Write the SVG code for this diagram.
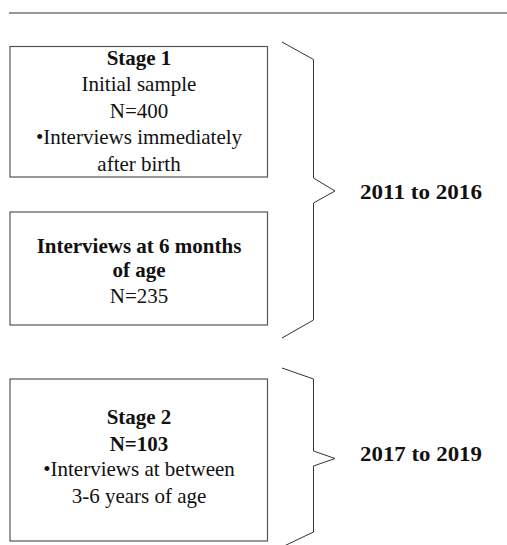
<svg xmlns="http://www.w3.org/2000/svg" width="507" height="545" viewBox="0 0 507 545">
<style>
.box{fill:#fff;stroke:#555;stroke-width:1.2}
.br{fill:none;stroke:#333;stroke-width:1}
text{font-family:"Liberation Serif","Times New Roman",serif;font-size:21px;fill:#111;text-anchor:middle}
.b{font-weight:bold}
.yr{font-size:22px}
</style>
<rect width="507" height="545" fill="#fff"/>
<line x1="9" y1="13" x2="507" y2="13" stroke="#333" stroke-width="1.2"/>
<g id="stage1">
<rect class="box" x="10" y="46.5" width="257.5" height="130.5"/>
<text class="b" x="139" y="64.5">Stage 1</text>
<text x="139" y="91">Initial sample</text>
<text x="139" y="117.5">N=400</text>
<text x="139" y="144">•Interviews immediately</text>
<text x="139" y="170.5">after birth</text>
</g>
<g id="sixmonths">
<rect class="box" x="10" y="212" width="257.5" height="113"/>
<text class="b" x="139" y="252.5">Interviews at 6 months</text>
<text class="b" x="139" y="277">of age</text>
<text x="139" y="302.5">N=235</text>
</g>
<g id="stage2">
<rect class="box" x="10" y="379" width="257.5" height="162"/>
<text class="b" x="139" y="424">Stage 2</text>
<text class="b" x="139" y="450.5">N=103</text>
<text x="139" y="476">•Interviews at between</text>
<text x="139" y="502.5">3-6 years of age</text>
</g>
<g id="connectors">
<path class="br" d="M282,42 L313.5,59.5 L313.5,178 L335,191 L313.5,203 L313.5,320 L282,338"/>
<path class="br" d="M282,368 L313.5,379 L313.5,451 L335,458.5 L313.5,466 L313.5,532 L282,547"/>
</g>
<g id="period1">
<text class="b yr" x="421" y="198.5" textLength="122" lengthAdjust="spacingAndGlyphs">2011 to 2016</text>
</g>
<g id="period2">
<text class="b yr" x="421" y="460.5" textLength="122" lengthAdjust="spacingAndGlyphs">2017 to 2019</text>
</g>
</svg>
